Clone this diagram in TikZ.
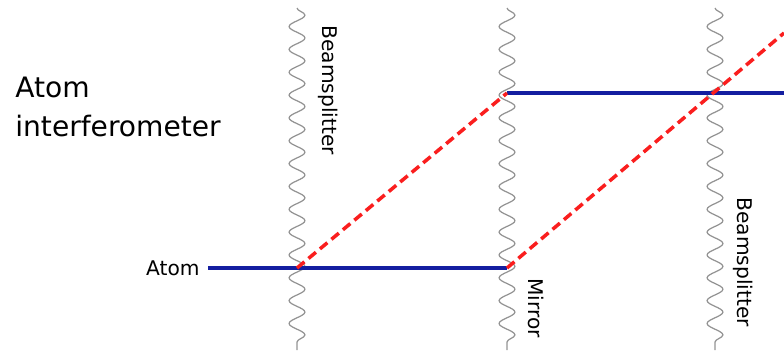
\documentclass[tikz,border=0pt]{standalone}
\usepackage{fontspec}
\setmainfont{DejaVu Sans}
\usetikzlibrary{decorations.pathmorphing}
\definecolor{atomblue}{RGB}{20,30,160}
\definecolor{laserred}{RGB}{250,30,30}
\tikzset{
    wave/.style={draw=gray!85, line width=0.7pt,
                 decorate, decoration={snake, segment length=13pt, amplitude=4.5pt}},
    atompath/.style={draw=atomblue, line width=2pt},
    kickpath/.style={draw=laserred, line width=2pt, dash pattern=on 5.5pt off 3pt},
    lbl/.style={font=\fontsize{11.5}{13}\selectfont, inner sep=0pt}
}
\begin{document}
\begin{tikzpicture}[x=0.02cm, y=-0.02cm]
    \useasboundingbox (0,0) rectangle (784,353);

    % Titel
    \node[anchor=north west, align=left, inner sep=0pt,
          font=\fontsize{16}{22}\selectfont] (title) at (15,77)
        {Atom\\interferometer};

    % Laserpulse
    \draw[wave] (297,8) -- (297,350);
    \draw[wave] (507,8) -- (507,350);
    \draw[wave] (715,8) -- (715,350);

    \node[lbl, rotate=-90, anchor=south west] (bs1) at (318,25) {Beamsplitter};
    \node[lbl, rotate=-90, anchor=south west] (mir) at (528,278) {Mirror};
    \node[lbl, rotate=-90, anchor=south west] (bs2) at (733,197) {Beamsplitter};

    % Punkte
    \node[lbl, anchor=east] (atom) at (200,268) {Atom};
    \coordinate (start) at (208,268);
    \coordinate (split) at (297,268);
    \coordinate (low) at (507,268);
    \coordinate (up) at (507,93);
    \coordinate (cross) at (712,93);
    \coordinate (outup) at (784,93);
    \coordinate (outdiag) at (784,33);

    % Atompfade
    \draw[atompath] (start) -- (low);
    \draw[atompath] (up) -- (outup);
    \draw[kickpath] (split) -- (up);
    \draw[kickpath] (low) -- (outdiag);

\end{tikzpicture}
\end{document}
